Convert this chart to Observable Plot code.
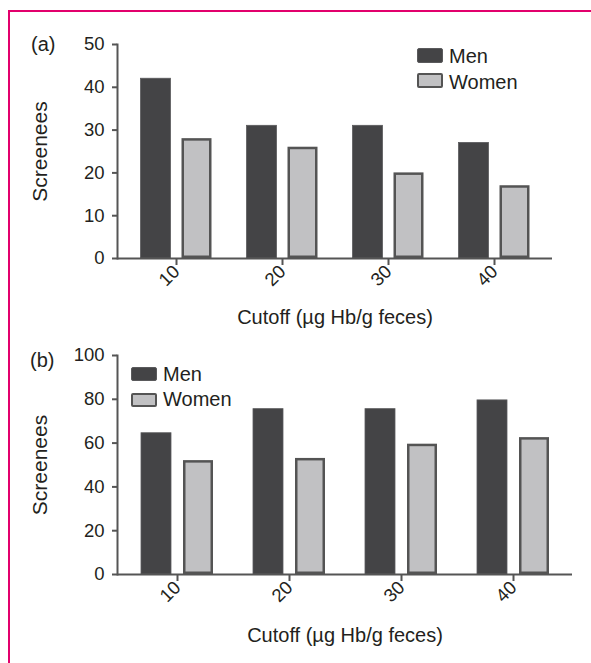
<!DOCTYPE html>
<html><head><meta charset="utf-8">
<script src="https://cdn.jsdelivr.net/npm/d3@7"></script>
<script src="https://cdn.jsdelivr.net/npm/@observablehq/plot@0.6"></script>
<style>
body{margin:0;background:#fff;font-family:"Liberation Sans",Arial,sans-serif;color:#231f20}
#wrap{position:relative;width:591px;height:663px;overflow:hidden;background:#fff}
.border{position:absolute;left:8px;top:10px;width:700px;height:800px;border-left:2px solid #e2006c;border-top:2px solid #e2006c}
.panel{position:absolute;left:0}
.plab{position:absolute;font-size:20px;line-height:20px;white-space:nowrap}
.leg{position:absolute;font-size:20px;line-height:20px;white-space:nowrap}
.sw{position:absolute;width:26px;border-radius:2px;box-sizing:border-box}
</style></head><body>
<div id="wrap"><div class="border"></div></div>
<script>
const cutoffs = [10, 20, 30, 40];
const seriesNames = ["Men", "Women"];
const menA = [42, 31, 31, 27];
const womenA = [28, 26, 20, 17];
const menB = [64.5, 75.5, 75.5, 79.5];
const womenB = [52, 53, 59.5, 62.5];
const ticksA = [0, 10, 20, 30, 40, 50];
const ticksB = [0, 20, 40, 60, 80, 100];
const panelLabels = ["(a)", "(b)"];
const xLabel = "Cutoff (\u00b5g Hb/g feces)";
const yLabel = "Screenees";

const MEN_FILL = "#444446", WOMEN_FILL = "#c1c1c3", EDGE = "#545454", AXIS = "#555";
const FONT = '"Liberation Sans", Arial, sans-serif';

function rows(vals, sex) { return cutoffs.map((c, i) => ({cutoff: c, sex, value: vals[i]})); }

function panel(o) {
  return Plot.plot({
    width: 591, height: o.height,
    marginLeft: 117, marginRight: o.marginRight, marginTop: o.marginTop, marginBottom: o.marginBottom,
    style: {background: "transparent", fontFamily: FONT, fontSize: "18px", color: "#231f20", overflow: "visible"},
    x: {type: "band", domain: cutoffs, paddingInner: o.paddingInner, paddingOuter: o.paddingOuter},
    y: {domain: [0, o.ticks[o.ticks.length - 1]]},
    marks: [
      Plot.barY(rows(o.men, "Men"), {x: "cutoff", y: "value", dx: -o.off, fill: MEN_FILL, stroke: "#5a5a5c", strokeWidth: 0.8}),
      Plot.barY(rows(o.women, "Women"), {x: "cutoff", y: "value", dx: o.off, fill: WOMEN_FILL, stroke: EDGE, strokeWidth: 2.5, inset: 1.25}),
      Plot.ruleY([0], {stroke: AXIS, strokeWidth: 2}),
      Plot.frame({anchor: "left", stroke: AXIS, strokeWidth: 2}),
      Plot.axisY({ticks: o.ticks, tickSize: 5, tickPadding: 8, stroke: AXIS, strokeWidth: 2, label: null, fontSize: 18.5}),
      Plot.axisY({ticks: [], label: yLabel, labelAnchor: "center", labelArrow: "none", labelOffset: 85, fontSize: 21}),
      Plot.axisX({tickSize: 7, tickPadding: 3, tickRotate: -45, stroke: AXIS, strokeWidth: 2, label: null, fontSize: 18.5}),
      Plot.axisX({ticks: [], label: xLabel, labelAnchor: "center", labelArrow: "none", labelOffset: o.labelOffsetX, fontSize: 20})
    ]
  });
}

const wrap = document.getElementById("wrap");
function place(el, top) { const d = document.createElement("div"); d.className = "panel"; d.style.top = top + "px"; d.appendChild(el); wrap.appendChild(d); }

place(panel({men: menA, women: womenA, ticks: ticksA, height: 340, marginTop: 44, marginBottom: 82, marginRight: 39,
  paddingInner: 0.72, paddingOuter: 0.393, off: 20.5, labelOffsetX: 65}), 0);
place(panel({men: menB, women: womenB, ticks: ticksB, height: 333, marginTop: 25, marginBottom: 89, marginRight: 19,
  paddingInner: 0.735, paddingOuter: 0.381, off: 21, labelOffsetX: 67}), 330);

function addText(txt, left, top, cls) { const d = document.createElement("div"); d.className = cls; d.textContent = txt; d.style.left = left + "px"; d.style.top = top + "px"; wrap.appendChild(d); }
function legend(left, tops, swTops, swH) {
  seriesNames.forEach((name, i) => {
    const s = document.createElement("div"); s.className = "sw";
    s.style.left = left + "px"; s.style.top = swTops[i] + "px"; s.style.height = swH + "px";
    if (i === 0) { s.style.background = MEN_FILL; s.style.border = "1px solid #5a5a5c"; }
    else { s.style.background = WOMEN_FILL; s.style.border = "2.5px solid " + EDGE; }
    wrap.appendChild(s);
    addText(name, left + 32, tops[i], "leg");
  });
}
addText(panelLabels[0], 31, 34, "plab");
addText(panelLabels[1], 30, 350, "plab");
legend(417, [46, 72], [48, 73], 15);
legend(131, [364, 389], [367, 393], 14);
</script>
</body></html>
